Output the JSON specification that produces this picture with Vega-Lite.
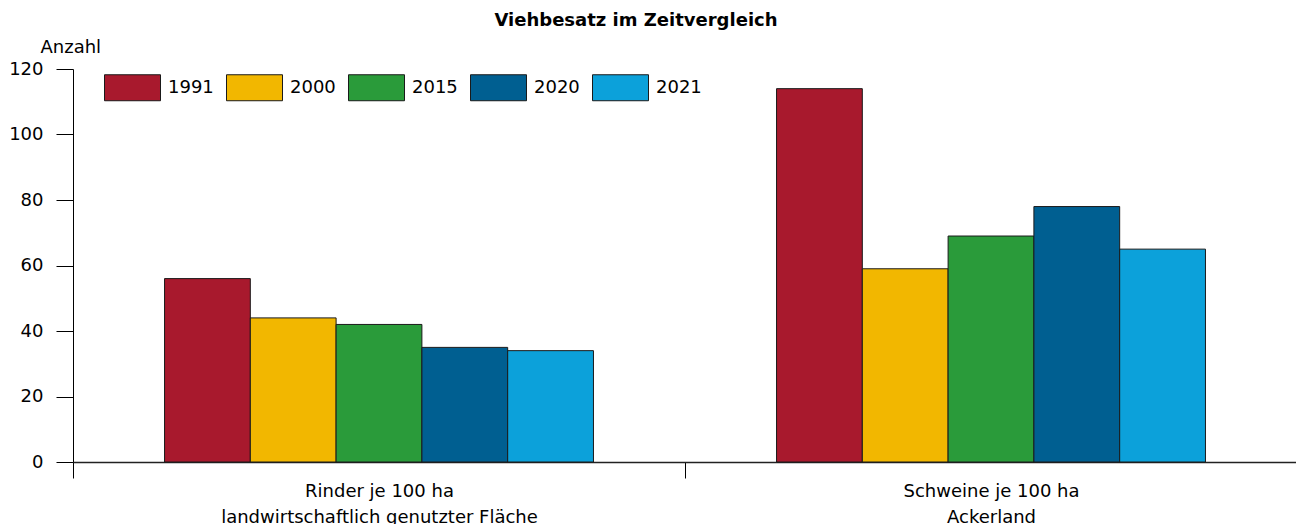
{
  "$schema": "https://vega.github.io/schema/vega-lite/v6.json",
  "width": 1224,
  "height": 393,
  "autosize": {"type": "none"},
  "padding": {"left": 73, "top": 69, "right": 0, "bottom": 62},
  "background": "white",
  "title": {
    "text": "Viehbesatz im Zeitvergleich",
    "orient": "top",
    "font": "DejaVu Sans",
    "fontSize": 18,
    "fontWeight": "bold",
    "color": "black",
    "anchor": "middle",
    "frame": "group",
    "dx": -49,
    "offset": 8
  },
  "config": {
    "view": {"stroke": null},
    "font": "DejaVu Sans"
  },
  "data": {
    "values": [
      {"kategorie": "Rinder je 100 ha\nlandwirtschaftlich genutzter Fläche", "jahr": "1991", "anzahl": 56},
      {"kategorie": "Rinder je 100 ha\nlandwirtschaftlich genutzter Fläche", "jahr": "2000", "anzahl": 44},
      {"kategorie": "Rinder je 100 ha\nlandwirtschaftlich genutzter Fläche", "jahr": "2015", "anzahl": 42},
      {"kategorie": "Rinder je 100 ha\nlandwirtschaftlich genutzter Fläche", "jahr": "2020", "anzahl": 35},
      {"kategorie": "Rinder je 100 ha\nlandwirtschaftlich genutzter Fläche", "jahr": "2021", "anzahl": 34},
      {"kategorie": "Schweine je 100 ha\nAckerland", "jahr": "1991", "anzahl": 114},
      {"kategorie": "Schweine je 100 ha\nAckerland", "jahr": "2000", "anzahl": 59},
      {"kategorie": "Schweine je 100 ha\nAckerland", "jahr": "2015", "anzahl": 69},
      {"kategorie": "Schweine je 100 ha\nAckerland", "jahr": "2020", "anzahl": 78},
      {"kategorie": "Schweine je 100 ha\nAckerland", "jahr": "2021", "anzahl": 65}
    ]
  },
  "mark": {"type": "bar", "stroke": "#1a1a1a", "strokeWidth": 1},
  "encoding": {
    "x": {
      "field": "kategorie",
      "type": "nominal",
      "sort": null,
      "scale": {"paddingInner": 0, "paddingOuter": 0},
      "axis": {
        "title": null,
        "labelAngle": 0,
        "labelExpr": "split(datum.label, '\\n')",
        "labelFont": "DejaVu Sans",
        "labelFontSize": 18,
        "labelLineHeight": 26,
        "labelColor": "black",
        "labelPadding": 4,
        "tickBand": "extent",
        "tickSize": 16,
        "tickColor": "black",
        "domainColor": "#222",
        "domainWidth": 1.5,
        "labelLimit": 0
      }
    },
    "xOffset": {
      "field": "jahr",
      "type": "nominal",
      "scale": {
        "domain": ["_links", "1991", "2000", "2015", "2020", "2021", "_rechts"],
        "paddingInner": 0,
        "paddingOuter": 0.067
      }
    },
    "y": {
      "field": "anzahl",
      "type": "quantitative",
      "scale": {"domain": [0, 120], "nice": false},
      "axis": {
        "values": [0, 20, 40, 60, 80, 100, 120],
        "grid": false,
        "title": "Anzahl",
        "titleFont": "DejaVu Sans",
        "titleAngle": 0,
        "titleAlign": "left",
        "titleBaseline": "alphabetic",
        "titleX": -33,
        "titleY": -17,
        "titleFontSize": 18,
        "titleFontWeight": "normal",
        "titleColor": "black",
        "labelFont": "DejaVu Sans",
        "labelFontSize": 18,
        "labelColor": "black",
        "labelPadding": 13,
        "tickSize": 17,
        "tickColor": "black",
        "domainColor": "black"
      }
    },
    "color": {
      "field": "jahr",
      "type": "nominal",
      "scale": {
        "domain": ["1991", "2000", "2015", "2020", "2021"],
        "range": ["#A8192D", "#F2B700", "#2A9B3A", "#005F91", "#0CA1DA"]
      },
      "legend": {
        "title": null,
        "orient": "none",
        "legendX": 31,
        "legendY": -10,
        "direction": "horizontal",
        "symbolType": "M-1,-0.464H1V0.464H-1Z",
        "symbolSize": 3136,
        "symbolStrokeColor": "#1a1a1a",
        "symbolStrokeWidth": 1,
        "labelFont": "DejaVu Sans",
        "labelFontSize": 18,
        "labelColor": "black",
        "labelOffset": 7,
        "columnPadding": 10
      }
    }
  }
}
